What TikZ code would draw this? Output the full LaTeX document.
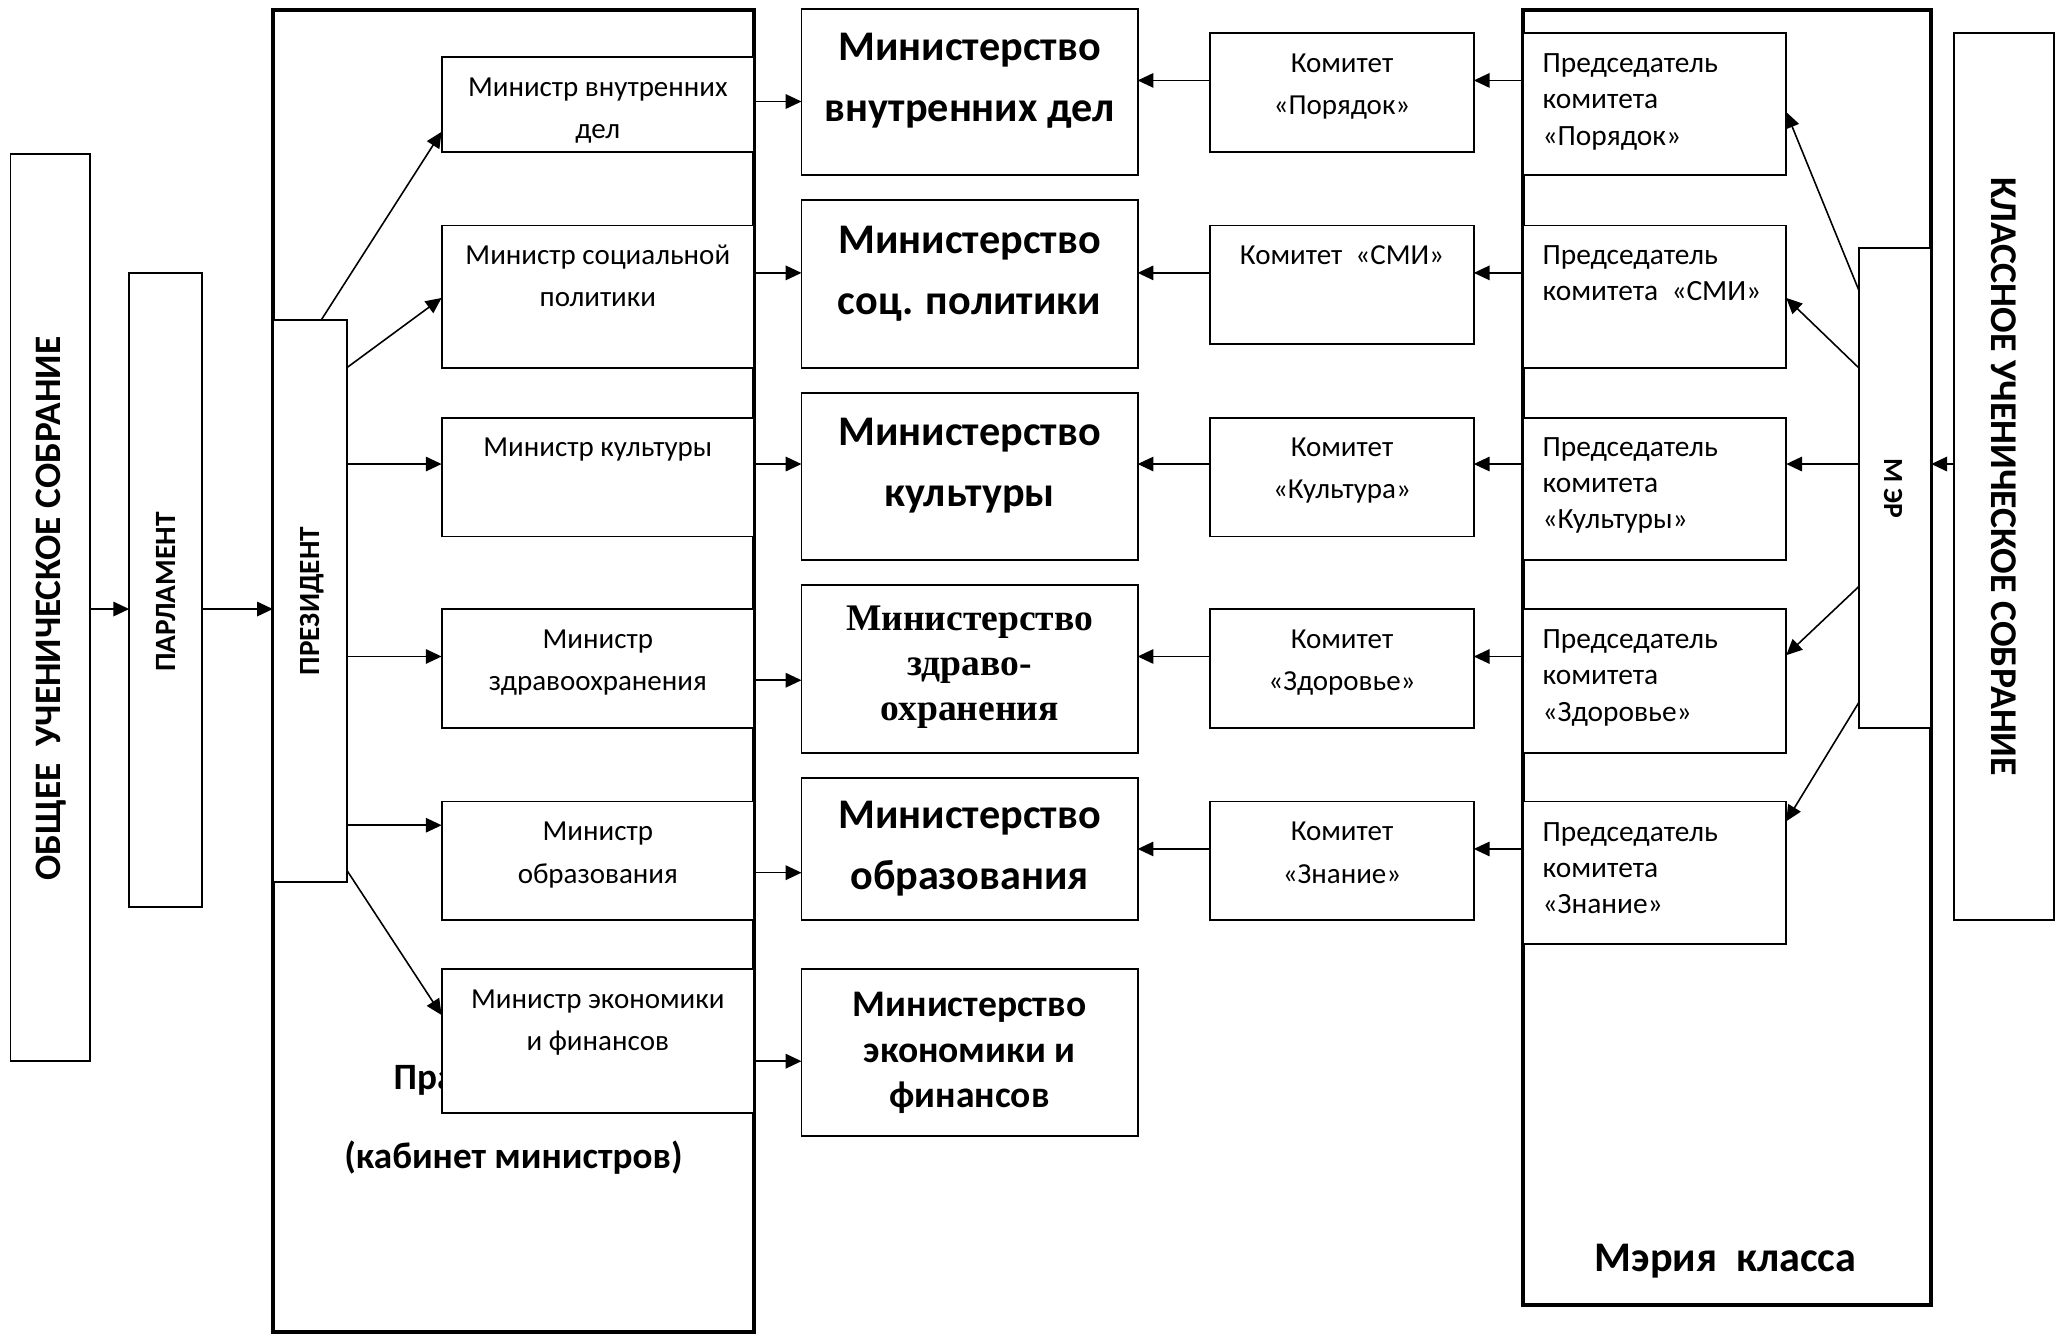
\documentclass[tikz,border=0pt]{standalone}
\usepackage{fontspec}
\setmainfont{Carlito}
\newfontfamily\tnr{Liberation Serif}
\usetikzlibrary{arrows.meta}
\newcommand{\lnst}{\rule[-0.25em]{0pt}{0.95em}}
\newcommand{\bx}[5][]{\node[box,#1,minimum width=#4pt,minimum height=#5pt] (#2) at (#3) {};}
\begin{document}
\begin{tikzpicture}[x=1pt,y=-1pt,
  box/.style={draw,line width=1.4pt,fill=white,inner sep=0pt,outer sep=0pt,anchor=north west},
  outerbox/.style={line width=3pt,fill=none},
  sm/.style={font=\fontsize{22}{32}\selectfont,align=center,inner sep=0pt},
  pr/.style={font=\fontsize{22.3}{27.5}\selectfont,align=left,inner sep=0pt,anchor=west},
  big/.style={font=\bfseries\fontsize{32}{46}\selectfont,align=center,inner sep=0pt},
  vt/.style={inner sep=0pt},
  arr/.style={-{Triangle[length=12pt,width=11pt]},line width=1.2pt}]
\useasboundingbox (0,0) rectangle (1568,1013);
\fill[white] (0,0) rectangle (1568,1013);

% outer frames
\bx[outerbox]{prav}{207,7.5}{365}{1003}
\bx[outerbox]{meria}{1155,7.5}{310}{982.5}

% government title (partly hidden)
\node[font=\bfseries\fontsize{28.2}{60}\selectfont,align=center,inner sep=0pt] (pravT) at (389.5,850) {\lnst Правительство\\\lnst (кабинет министров)};
\node[font=\bfseries\fontsize{32}{34}\selectfont,inner sep=0pt] (meriaT) at (1309,957) {Мэрия~~класса};

% left column
\bx{obsh}{8,117}{60}{688}
\node[vt,font=\bfseries\fontsize{28.3}{30}\selectfont,rotate=90] (obshT) at (38.5,461.5) {ОБЩЕЕ~~УЧЕНИЧЕСКОЕ СОБРАНИЕ};
\bx{parl}{98,207}{55}{481}
\node[vt,font=\bfseries\fontsize{22.3}{24}\selectfont,rotate=90] (parlT) at (126,449) {ПАРЛАМЕНТ};
\bx{pres}{207,243}{56}{426}
\node[vt,font=\bfseries\fontsize{22.2}{24}\selectfont,rotate=90] (presT) at (236.5,456) {ПРЕЗИДЕНТ};

% ministers
\bx{min1}{335,43}{237}{72}
\bx{min2}{335,171}{237}{108}
\bx{min3}{335,317}{237}{90}
\bx{min4}{335,462}{237}{90}
\bx{min5}{335,608}{237}{90}
\bx{min6}{335,735}{237}{109}
\node[sm] (min1T) at (453.5,84) {\lnst Министр внутренних\\\lnst дел};
\node[sm] (min2T) at (453.5,211.5) {\lnst Министр социальной\\\lnst политики};
\node[sm] (min3T) at (453.5,341) {\lnst Министр культуры};
\node[sm] (min4T) at (453.5,503) {\lnst Министр\\\lnst здравоохранения};
\node[sm] (min5T) at (453.5,649) {\lnst Министр\\\lnst образования};
\node[sm] (min6T) at (453.5,776) {\lnst Министр экономики\\\lnst и финансов};

% ministries
\bx{mst1}{608,7}{255}{126}
\bx{mst2}{608,152}{255}{127}
\bx{mst3}{608,298}{255}{127}
\bx{mst4}{608,444}{255}{127}
\bx{mst5}{608,590}{255}{108}
\bx{mst6}{608,735}{255}{127}
\node[big] (mst1T) at (735.5,62) {\lnst Министерство\\\lnst внутренних дел};
\node[big] (mst2T) at (735.5,208) {\lnst Министерство\\\lnst соц. политики};
\node[big] (mst3T) at (735.5,354) {\lnst Министерство\\\lnst культуры};
\node[big,font=\tnr\bfseries\fontsize{28.5}{34}\selectfont] (mst4T) at (735.5,506) {\lnst Министерство\\\lnst здраво-\\\lnst охранения};
\node[big] (mst5T) at (735.5,644.5) {\lnst Министерство\\\lnst образования};
\node[big,font=\bfseries\fontsize{28.5}{34.5}\selectfont] (mst6T) at (735.5,799.5) {\lnst Министерство\\\lnst экономики и\\\lnst финансов};

% committees
\bx{kom1}{918,25}{200}{90}
\bx{kom2}{918,171}{200}{90}
\bx{kom3}{918,317}{200}{90}
\bx{kom4}{918,462}{200}{90}
\bx{kom5}{918,608}{200}{90}
\node[sm] (kom1T) at (1018,66) {\lnst Комитет\\\lnst «Порядок»};
\node[sm] (kom2T) at (1018,196) {\lnst Комитет~~«СМИ»};
\node[sm] (kom3T) at (1018,357) {\lnst Комитет\\\lnst «Культура»};
\node[sm] (kom4T) at (1018,503) {\lnst Комитет\\\lnst «Здоровье»};
\node[sm] (kom5T) at (1018,649) {\lnst Комитет\\\lnst «Знание»};

% chairmen
\bx{pred1}{1155,25}{200}{108}
\bx{pred2}{1155,171}{200}{108}
\bx{pred3}{1155,317}{200}{108}
\bx{pred4}{1155,462}{200}{109}
\bx{pred5}{1155,608}{200}{108}
\node[pr] (pred1T) at (1170,77.5) {\lnst Председатель\\\lnst комитета\\\lnst «Порядок»};
\node[pr] (pred2T) at (1170,209.5) {\lnst Председатель\\\lnst комитета~~«СМИ»};
\node[pr] (pred3T) at (1170,368.5) {\lnst Председатель\\\lnst комитета\\\lnst «Культуры»};
\node[pr] (pred4T) at (1170,514.5) {\lnst Председатель\\\lnst комитета\\\lnst «Здоровье»};
\node[pr] (pred5T) at (1170,660.5) {\lnst Председатель\\\lnst комитета\\\lnst «Знание»};

% mayor and class assembly
\bx{mer}{1410,188}{55}{364}
\node[vt,font=\bfseries\fontsize{21}{24}\selectfont,rotate=-90] (merT) at (1436,370.5) {М ЭР};
\bx{klass}{1482,25}{76}{673}
\node[vt,font=\bfseries\fontsize{28.7}{30}\selectfont,rotate=-90] (klassT) at (1520,361.5) {КЛАССНОЕ УЧЕНИЧЕСКОЕ СОБРАНИЕ};

% arrows left
\draw[arr] (obsh.east |- 0,462) -- (parl.west |- 0,462);
\draw[arr] (parl.east |- 0,462) -- (pres.west |- 0,462);
\draw[arr] (pres.north -| 243.5,0) -- (min1.west |- 0,100);
\draw[arr] (pres.east |- 0,279) -- (min2.west |- 0,226);
\draw[arr] (pres.east |- 0,352) -- (min3.west |- 0,352);
\draw[arr] (pres.east |- 0,498) -- (min4.west |- 0,498);
\draw[arr] (pres.east |- 0,626) -- (min5.west |- 0,626);
\draw[arr] (pres.east |- 0,660) -- (min6.west |- 0,770);
% minister -> ministry
\draw[arr] (min1.east |- 0,77) -- (mst1.west |- 0,77);
\draw[arr] (min2.east |- 0,207) -- (mst2.west |- 0,207);
\draw[arr] (min3.east |- 0,352) -- (mst3.west |- 0,352);
\draw[arr] (min4.east |- 0,516) -- (mst4.west |- 0,516);
\draw[arr] (min5.east |- 0,662) -- (mst5.west |- 0,662);
\draw[arr] (min6.east |- 0,805) -- (mst6.west |- 0,805);
% committee -> ministry
\draw[arr] (kom1.west |- 0,61) -- (mst1.east |- 0,61);
\draw[arr] (kom2.west |- 0,207) -- (mst2.east |- 0,207);
\draw[arr] (kom3.west |- 0,352) -- (mst3.east |- 0,352);
\draw[arr] (kom4.west |- 0,498) -- (mst4.east |- 0,498);
\draw[arr] (kom5.west |- 0,644) -- (mst5.east |- 0,644);
% chairman -> committee
\draw[arr] (pred1.west |- 0,61) -- (kom1.east |- 0,61);
\draw[arr] (pred2.west |- 0,207) -- (kom2.east |- 0,207);
\draw[arr] (pred3.west |- 0,352) -- (kom3.east |- 0,352);
\draw[arr] (pred4.west |- 0,498) -- (kom4.east |- 0,498);
\draw[arr] (pred5.west |- 0,644) -- (kom5.east |- 0,644);
% mayor -> chairmen
\draw[arr] (mer.west |- 0,220) -- (pred1.east |- 0,85);
\draw[arr] (mer.west |- 0,279) -- (pred2.east |- 0,226);
\draw[arr] (mer.west |- 0,352) -- (pred3.east |- 0,352);
\draw[arr] (mer.west |- 0,445) -- (pred4.east |- 0,497);
\draw[arr] (mer.west |- 0,533) -- (pred5.east |- 0,623);
% class assembly -> mayor
\draw[arr] (klass.west |- 0,352) -- (mer.east |- 0,352);
\end{tikzpicture}
\end{document}
